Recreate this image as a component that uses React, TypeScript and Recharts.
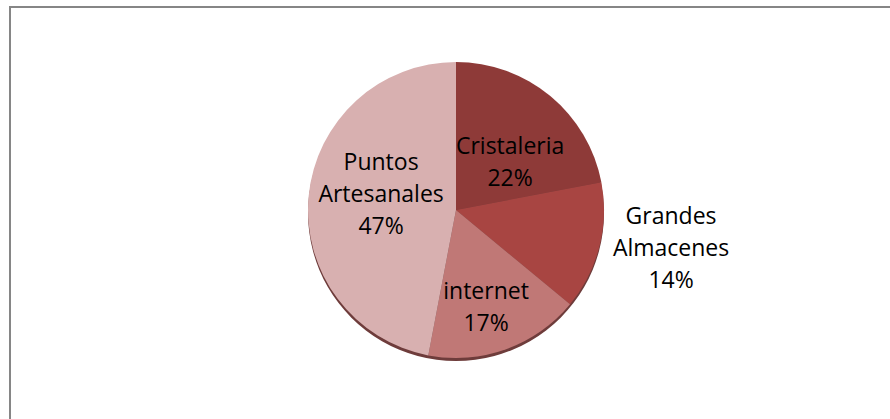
import React from 'react';
import { PieChart, Pie, Cell } from 'recharts';

// canales de venta (porcentaje)
const canales = ['Cristaleria', 'Grandes Almacenes', 'internet', 'Puntos Artesanales'];
const porcentajes = [22, 14, 17, 47];
const colores = ['#8E3A38', '#A84542', '#C07876', '#D8B0B0'];

const data = canales.map((name, i) => ({ name, value: porcentajes[i] }));

// ajuste de la posición de las etiquetas (radio relativo y giro en grados)
const labelFit = [
  { r: 0.478, rot: -10.3 },
  { r: 1.478, rot: 3.9 },
  { r: 0.699, rot: -2.9 },
  { r: 0.515, rot: -5.2 },
];

const RAD = Math.PI / 180;
const LINE_H = 32;

const renderLabel = (props: any) => {
  const { cx, cy, midAngle, outerRadius, index, name, percent } = props;
  const fit = labelFit[index];
  const a = (midAngle + fit.rot) * RAD;
  const r = outerRadius * fit.r;
  const x = cx + r * Math.cos(a);
  const y = cy - r * Math.sin(a);
  const lines = [...String(name).split(' '), `${Math.round(percent * 100)}%`];
  const y0 = y - ((lines.length - 1) * LINE_H) / 2 - 3;
  return (
    <text
      x={x}
      y={y0}
      textAnchor="middle"
      dominantBaseline="central"
      fill="#000"
      fontSize={23}
      fontFamily="'Open Sans', sans-serif"
    >
      {lines.map((l, i) => (
        <tspan key={i} x={x} y={y0 + i * LINE_H}>
          {l}
        </tspan>
      ))}
    </text>
  );
};

const App: React.FC = () => {
  return (
    <div style={{ position: 'absolute', left: 0, top: 0, width: 890, height: 419, background: '#fff', overflow: 'hidden' }}>
      <div
        style={{
          position: 'absolute',
          left: 9,
          top: 6,
          width: 900,
          height: 430,
          borderLeft: '2px solid #868686',
          borderTop: '2px solid #868686',
        }}
      />
      <div style={{ position: 'absolute', left: 0, top: 0 }}>
        <PieChart width={890} height={419} margin={{ top: 0, right: 0, bottom: 0, left: 0 }}>
          <Pie
            data={[{ name: 'base', value: 100 }]}
            dataKey="value"
            cx={456}
            cy={213}
            outerRadius={148}
            stroke="none"
            fill="#6E3C3B"
            isAnimationActive={false}
          />
          <Pie
            data={data}
            dataKey="value"
            nameKey="name"
            cx={456}
            cy={210}
            outerRadius={148}
            startAngle={90}
            endAngle={-270}
            stroke="none"
            label={renderLabel}
            labelLine={false}
            isAnimationActive={false}
          >
            {data.map((d, i) => (
              <Cell key={d.name} fill={colores[i]} />
            ))}
          </Pie>
        </PieChart>
      </div>
    </div>
  );
};

export default App;
